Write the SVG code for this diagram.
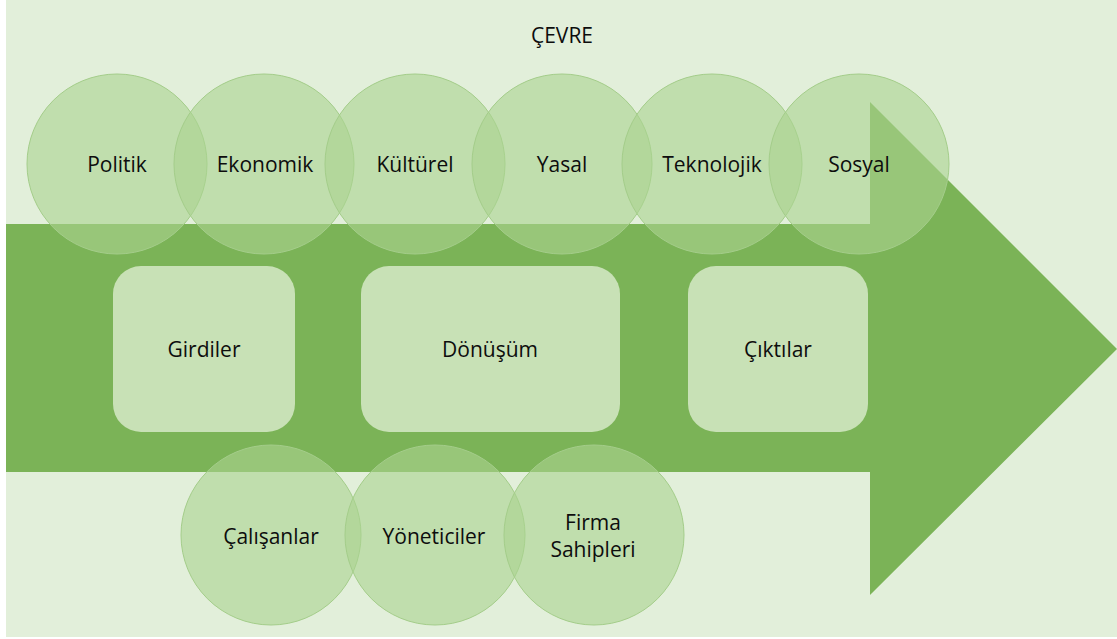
<svg xmlns="http://www.w3.org/2000/svg" width="1117" height="639" viewBox="0 0 1117 639">
  <style>
    .lbl { font-family: "Open Sans", "Noto Sans", "Liberation Sans", sans-serif; font-size: 21px; fill: #0d0d0d; text-anchor: middle; }
    .env { fill: #aad390; fill-opacity: 0.61; stroke: #a4cd8a; stroke-width: 1; }
    .stage { fill: #c8e1b6; }
  </style>

  <!-- page -->
  <rect x="0" y="0" width="1117" height="639" fill="#ffffff"/>
  <rect id="environment" x="6" y="0" width="1111" height="637" fill="#e2efda"/>

  <!-- process arrow -->
  <g id="connectors">
    <polygon id="flow-arrow" points="6,224 870,224 870,102 1117,349 870,595 870,472 6,472" fill="#7bb357"/>
  </g>

  <text id="cevre" class="lbl" x="562" y="43">ÇEVRE</text>

  <!-- environment factors -->
  <g id="politik"><circle class="env" cx="117" cy="164" r="90"/><text class="lbl" x="117" y="172">Politik</text></g>
  <g id="ekonomik"><circle class="env" cx="264" cy="164" r="90"/><text class="lbl" x="265" y="172">Ekonomik</text></g>
  <g id="kulturel"><circle class="env" cx="415" cy="164" r="90"/><text class="lbl" x="415" y="172">Kültürel</text></g>
  <g id="yasal"><circle class="env" cx="562" cy="164" r="90"/><text class="lbl" x="562" y="172">Yasal</text></g>
  <g id="teknolojik"><circle class="env" cx="712" cy="164" r="90"/><text class="lbl" x="712" y="172">Teknolojik</text></g>
  <g id="sosyal"><circle class="env" cx="859" cy="164" r="90"/><text class="lbl" x="859" y="172">Sosyal</text></g>

  <!-- process stages -->
  <g id="girdiler"><rect class="stage" x="113" y="266" width="182" height="166" rx="28"/><text class="lbl" x="204" y="357">Girdiler</text></g>
  <g id="donusum"><rect class="stage" x="361" y="266" width="259" height="166" rx="28"/><text class="lbl" x="490" y="357">Dönüşüm</text></g>
  <g id="ciktilar"><rect class="stage" x="688" y="266" width="180" height="166" rx="28"/><text class="lbl" x="778" y="357">Çıktılar</text></g>

  <!-- stakeholders -->
  <g id="calisanlar"><circle class="env" cx="271" cy="535" r="90"/><text class="lbl" x="271" y="544">Çalışanlar</text></g>
  <g id="yoneticiler"><circle class="env" cx="435" cy="535" r="90"/><text class="lbl" x="434" y="544">Yöneticiler</text></g>
  <g id="firma-sahipleri"><circle class="env" cx="594" cy="535" r="90"/><text class="lbl" x="593" y="530">Firma</text><text class="lbl" x="593" y="557">Sahipleri</text></g>
</svg>
